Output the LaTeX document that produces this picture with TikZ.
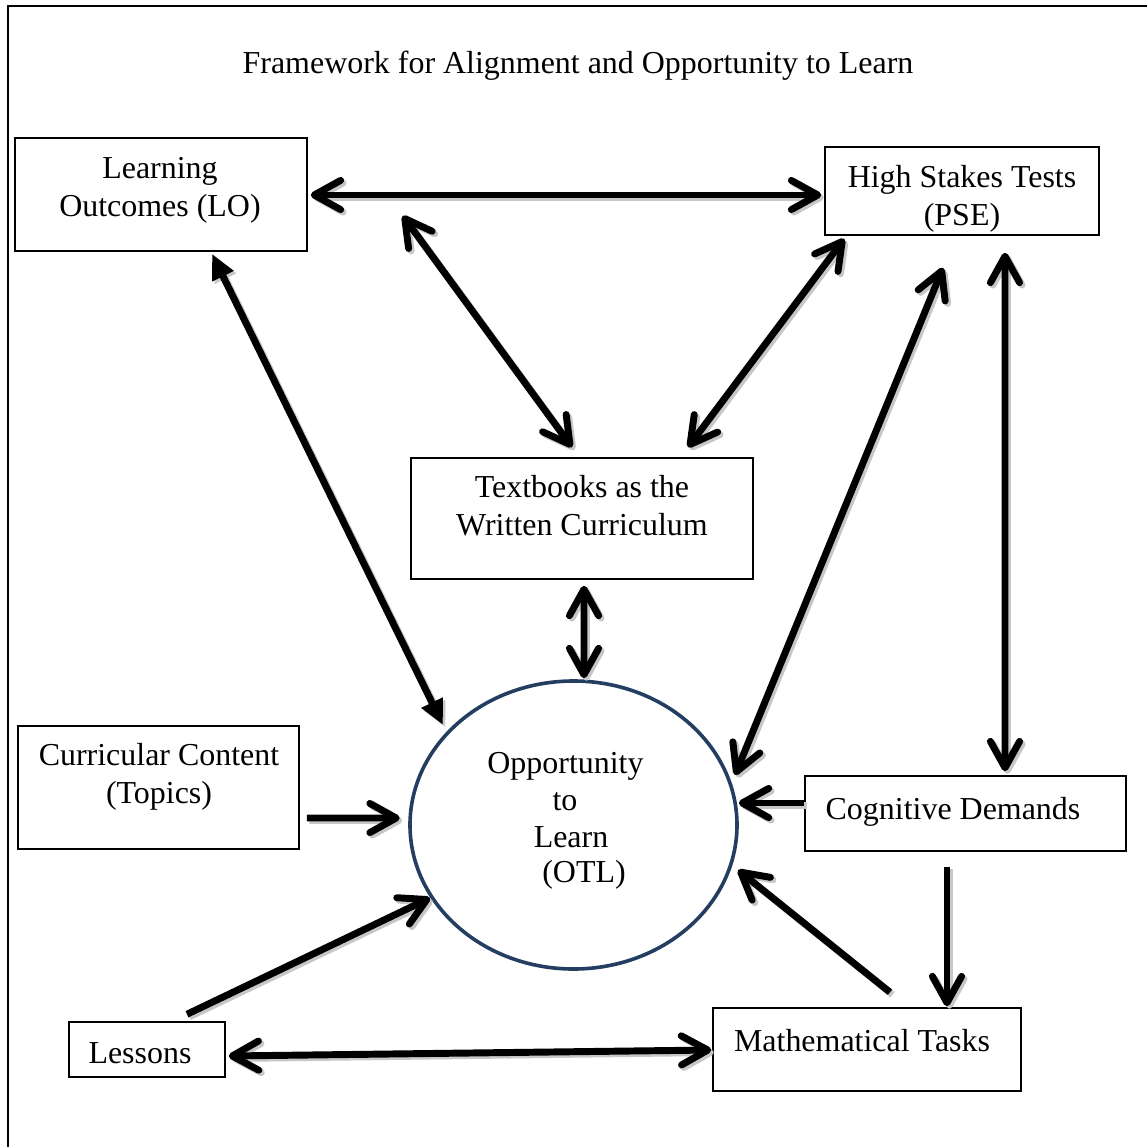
\documentclass[tikz,border=0pt]{standalone}
\usepackage{fontspec}
\setmainfont{Liberation Serif}
\usetikzlibrary{arrows.meta,calc,shapes.geometric}
\newcommand\pxl{0.36pt}
\definecolor{otlblue}{RGB}{36,62,98}
\begin{document}
\begin{tikzpicture}[x=0.36pt,y=-0.36pt,
  every node/.style={font={\fontsize{11.5pt}{13.7pt}\selectfont}},
  box/.style 2 args={draw, line width=0.55pt, inner sep=0pt,
    minimum width=#1*\pxl, minimum height=#2*\pxl},
  lbl/.style={align=center, inner sep=0pt},
  shade/.style={preaction={draw=black!22, line width=2.5pt,
    transform canvas={shift={(0.9pt,-0.9pt)}}}},
  conn/.style={line width=2.5pt, shade,
    >={Straight Barb[length=9.5pt,width=10.5pt,round]}},
  tri/.style={line width=2.5pt, shade,
    >={Triangle[length=9pt,width=8pt]}}
]
\useasboundingbox (0,0) rectangle (1147,1147);
\fill[white] (0,0) rectangle (1147,1147);

% outer frame
\draw[line width=1pt] (8,1160) -- (8,6) -- (1160,6);

% title
\node[lbl] (title) at (578,66) {Framework for Alignment and Opportunity to Learn};

% boxes
\node[box={292}{113}] (lo)  at (161,194.5) {};
\node[box={274}{88}]  (hst) at (962,191) {};
\node[box={342}{121}] (tb)  at (582,518.5) {};
\node[box={281}{123}] (cc)  at (158.5,787.5) {};
\node[box={321}{75}]  (cd)  at (965.5,813.5) {};
\node[box={156}{55}]  (les) at (147,1049.5) {};
\node[box={308}{83}]  (mt)  at (867,1049.5) {};
\node[ellipse, draw=otlblue, line width=1.3pt, inner sep=0pt,
      minimum width=327*\pxl, minimum height=288*\pxl] (otl) at (573.5,825) {};

% box texts
\node[lbl] (lotxt)  at (160,190) {Learning\\Outcomes (LO)};
\node[lbl] (hsttxt) at (962,199) {High Stakes Tests\\(PSE)};
\node[lbl] (tbtxt)  at (582,506) {Textbooks as the\\Written Curriculum};
\node[lbl] (cctxt)  at (159,777) {Curricular Content\\(Topics)};
\node[lbl] (cdtxt)  at (953,812) {Cognitive Demands};
\node[lbl] (lestxt) at (140,1053) {Lessons};
\node[lbl] (mttxt)  at (862,1041) {Mathematical Tasks};
\node[lbl] (o1) at (565.5,766) {Opportunity};
\node[lbl] (o2) at (565,802) {to};
\node[lbl] (o3) at (571,837) {Learn};
\node[lbl] (o4) at (584,875) {(OTL)};

% connectors
\draw[conn,<->] ($(lo.east)+(3,0.5)$) -- ($(hst.west |- lo.east)+(-3,0.5)$);
\draw[conn,<->] ($(lo.south east)+(95,-36)$) -- ($(tb.north)+(-10,-10)$);
\draw[conn,<->] ($(hst.south west)+(20,3)$) -- ($(tb.north)+(106,-10)$);
\draw[tri,<->]  ($(lo.south)+(51,2)$) -- ($(otl.center)+(-130.5,-100)$);
\draw[conn,<->] ($(tb.south)+(2,6)$) -- ($(otl.north)+(10.5,-1)$);
\draw[conn,<->] ($(hst.south)+(-19,32)$) -- ($(otl.center)+(161.5,-50)$);
\draw[conn,<->] ($(hst.south)+(43,17)$) -- ($(cd.north)+(39.5,-4)$);
\draw[conn,->]  ($(cc.east)+(7,30.5)$) -- ($(otl.west)+(-8.5,-7)$);
\draw[conn,->]  ($(cd.west)+(0,-10.5)$) -- ($(otl.east)+(0,-22)$);
\draw[conn,->]  ($(cd.south)+(-18.5,15)$) -- ($(mt.north)+(80,-1)$);
\draw[conn,->]  ($(mt.north)+(23,-15)$) -- ($(otl.center)+(164.5,45)$);
\draw[conn,->]  ($(les.north)+(40,-7)$) -- ($(otl.center)+(-143.5,73)$);
\draw[conn,<->] ($(les.east)+(3,6.5)$) -- ($(mt.west)+(-1,0.5)$);
\end{tikzpicture}
\end{document}
